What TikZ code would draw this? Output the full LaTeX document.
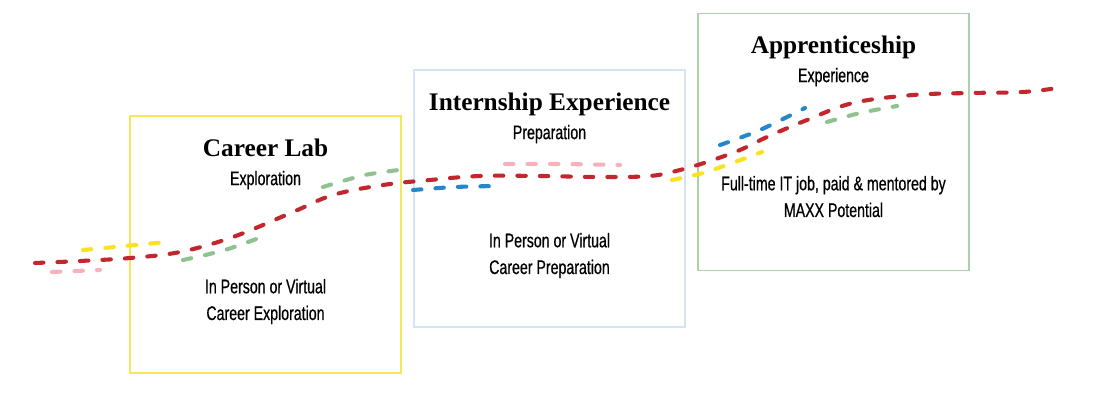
\documentclass[tikz,border=0pt]{standalone}
\usepackage{fontspec}
\setmainfont{Liberation Serif}
\newfontfamily\condfont[FakeStretch=0.72, FakeBold=0.6]{Liberation Sans}
\usetikzlibrary{positioning}
\definecolor{trailred}{HTML}{C1272D}
\definecolor{trailpink}{HTML}{F5B1BE}
\definecolor{trailyellow}{HTML}{F9E21F}
\definecolor{trailgreen}{HTML}{90C291}
\definecolor{trailblue}{HTML}{2587CB}
\definecolor{labyellow}{HTML}{F4E75A}
\definecolor{internblue}{HTML}{D3E5F4}
\definecolor{apprgreen}{HTML}{AAD1AA}
\tikzset{
stagebox/.style={draw, line width=1pt, minimum width=6.775cm, minimum height=6.425cm}, % one frame per stage
stagetitle/.style={font=\bfseries\fontsize{18}{20}\selectfont, anchor=base, inner sep=0pt},
stagesub/.style={font=\condfont\fontsize{14}{16}\selectfont, inner sep=0pt, text height=10pt, text depth=3pt},
stagebody/.style={font=\condfont\fontsize{14}{19}\selectfont, align=center, inner sep=0pt, anchor=base}, % base sits on the last line
trail/.style={dash pattern=on 6pt off 10pt, line width=2.9pt, line cap=round}, % the wavy dashed paths
}

\begin{document}
\begin{tikzpicture}[x=0.025cm, y=-0.025cm, node distance=9.8pt]
  \useasboundingbox (0,0) rectangle (1100,400);

  % stage frames
  \node[stagebox, draw=labyellow] (lab) at (265.5,244.5) {};
  \node[stagebox, draw=internblue] (intern) at (549.5,198.5) {};
  \node[stagebox, draw=apprgreen] (appr) at (833.5,142) {};

  % career lab
  \node[stagetitle] (labtitle) at (265.5,157) {Career Lab};
  \node[stagesub, below=of labtitle.base] (labsub) {Exploration};
  \node[stagebody] (labtext) at (265.5,320) {In Person or Virtual\\Career Exploration};

  % internship
  \node[stagetitle] (interntitle) at (549.5,111) {Internship Experience};
  \node[stagesub, below=of interntitle.base] (internsub) {Preparation};
  \node[stagebody] (interntext) at (549.5,274) {In Person or Virtual\\Career Preparation};

  % apprenticeship
  \node[stagetitle] (apprtitle) at (833.5,54) {Apprenticeship};
  \node[stagesub, below=of apprtitle.base] (apprsub) {Experience};
  \node[stagebody] (apprtext) at (833.5,217) {Full-time IT job, paid \& mentored by\\MAXX Potential};

  % dashed trails
  \draw[trail, trailpink] plot[smooth] coordinates {(52,272) (75,271) (100,270)};
  \draw[trail, trailpink] plot[smooth] coordinates {(505,164) (560,164) (620,165)};
  \draw[trail, trailyellow] plot[smooth] coordinates {(83,250) (125,246) (167,242)};
  \draw[trail, trailyellow] plot[smooth] coordinates {(672,180) (703,173) (735,162) (762,152)};
  \draw[trail, trailgreen] plot[smooth] coordinates {(183,260) (225,250) (267,235)};
  \draw[trail, trailgreen] plot[smooth] coordinates {(323,187) (365,175) (407,169)};
  \draw[trail, trailgreen] plot[smooth] coordinates {(827,122) (860,113) (897,106)};
  \draw[trail, trailblue] plot[smooth] coordinates {(413,190) (455,187) (498,186)};
  \draw[trail, trailblue] plot[smooth] coordinates {(720,145) (760,130) (805,108)};
  \draw[trail, trailred] plot[smooth, tension=0.6] coordinates {(35,263) (80,261) (130,258)
    (180,252) (233,237) (293,212) (333,195) (383,185) (430,180) (480,176) (540,176)
    (600,177) (650,176) (680,170) (707,162) (740,150) (767,137) (807,120) (853,103)
    (913,95) (970,93) (1023,92) (1065,87)};
\end{tikzpicture}
\end{document}
